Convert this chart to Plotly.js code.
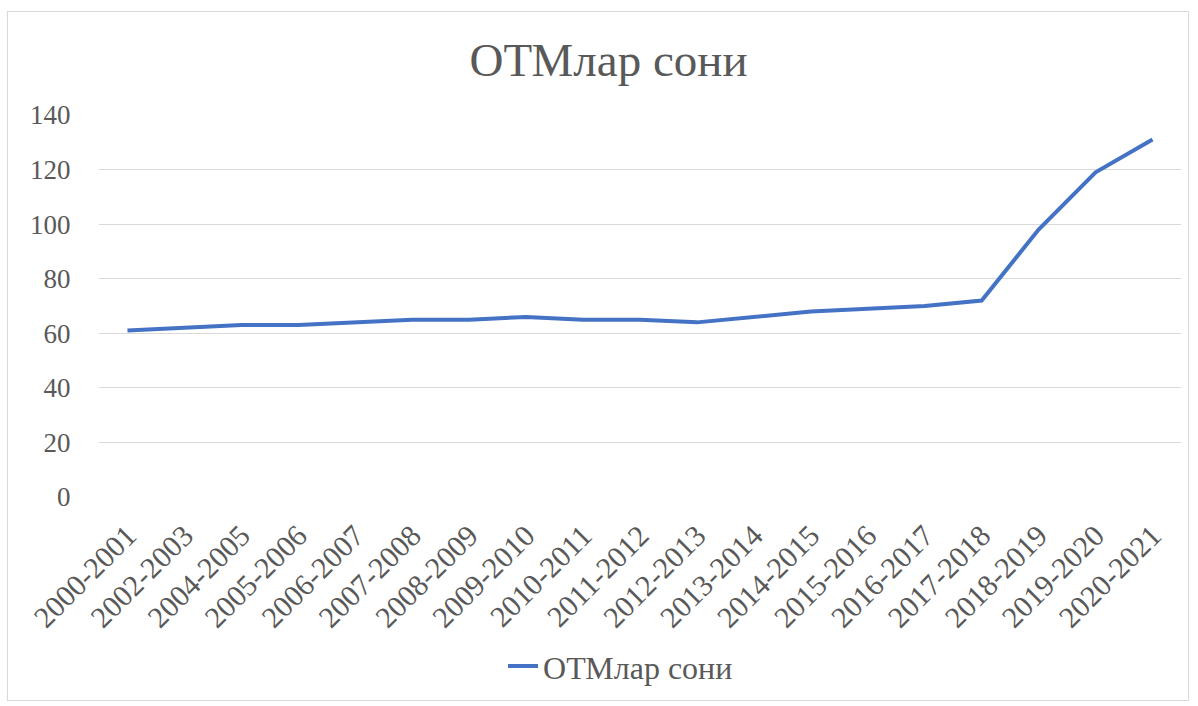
<!DOCTYPE html>
<html>
<head>
<meta charset="utf-8">
<script src="https://cdn.plot.ly/plotly-3.0.1.min.js"></script>
<style>
html,body{margin:0;padding:0;background:#fff;}
#frame{position:absolute;left:7px;top:11px;width:1182px;height:690px;border:1px solid #d9d9d9;box-sizing:border-box;}
#chart{position:absolute;left:0;top:0;width:1198px;height:706px;}
</style>
</head>
<body>
<div id="frame"></div>
<div id="chart"></div>
<script>
const years = ["2000-2001","2002-2003","2004-2005","2005-2006","2006-2007","2007-2008","2008-2009","2009-2010","2010-2011","2011-2012","2012-2013","2013-2014","2014-2015","2015-2016","2016-2017","2017-2018","2018-2019","2019-2020","2020-2021"];
const otmCount = [61,62,63,63,64,65,65,66,65,65,64,66,68,69,70,72,98,119,131];
const yTicks = [0,20,40,60,80,100,120,140];
const seriesName = "ОТМлар сони";
const chartTitle = "ОТМлар сони";

const font = "Liberation Serif";
const grey = "#595959";

Plotly.newPlot("chart", [{
  x: years,
  y: otmCount,
  type: "scatter",
  mode: "lines",
  name: seriesName,
  line: {color: "#4472C4", width: 4}
}], {
  width: 1198, height: 706,
  paper_bgcolor: "rgba(0,0,0,0)",
  plot_bgcolor: "rgba(0,0,0,0)",
  margin: {l: 98.5, r: 16.5, t: 115, b: 203},
  title: {text: chartTitle, font: {family: font, size: 47, color: grey}, x: 0.508, xanchor: "center", y: 0.915, yanchor: "middle"},
  xaxis: {
    type: "category",
    range: [-0.5, years.length - 0.5],
    tickangle: -45,
    tickfont: {family: font, size: 30, color: grey},
    showgrid: false,
    showline: false,
    zeroline: false,
    ticks: "outside",
    ticklen: 8,
    tickcolor: "rgba(0,0,0,0)",
    fixedrange: true
  },
  yaxis: {
    range: [0, 140],
    tickvals: yTicks,
    tickfont: {family: font, size: 27, color: grey},
    gridcolor: "#d9d9d9",
    gridwidth: 1,
    zeroline: false,
    showline: false,
    ticks: "outside",
    ticklen: 22,
    tickcolor: "rgba(0,0,0,0)"
  },
  showlegend: true,
  legend: {
    orientation: "h",
    x: 0.482, xanchor: "center",
    y: -0.443, yanchor: "middle",
    font: {family: font, size: 32, color: grey},
    bgcolor: "rgba(0,0,0,0)"
  }
}, {displayModeBar: false, staticPlot: true});
</script>
</body>
</html>
